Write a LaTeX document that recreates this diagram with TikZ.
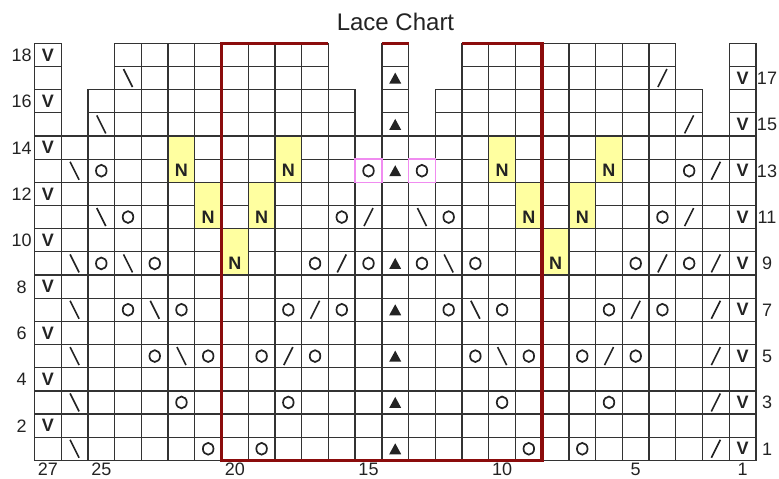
\documentclass[tikz,border=0pt]{standalone}
\usepackage{fontspec}
\setmainfont{Liberation Sans}
\definecolor{chartred}{RGB}{139,12,12}
\definecolor{chartyel}{RGB}{255,255,160}
\definecolor{chartpink}{RGB}{240,140,240}
\definecolor{ink}{RGB}{35,35,35}
\def\gx{34.5}\def\gy{43.3}\def\cw{26.72}\def\rh{23.17}
\newcommand\kncell[2]{\draw[gridl] ({\gx+(27-#1)*\cw},{\gy+(18-#2)*\rh}) rectangle ++(\cw,\rh);}
\newcommand\knY[2]{\draw[yelbox] ({\gx+(27-#1)*\cw},{\gy+(17-#2)*\rh}) rectangle ++(\cw,{2*\rh});}
\newcommand\knP[2]{\draw[pinkbox] ({\gx+(27-#1)*\cw},{\gy+(18-#2)*\rh}) rectangle ++(\cw,\rh);}
\newcommand\knO[2]{\draw[ring] ({\gx+(27.5-#1)*\cw},{\gy+(18.5-#2)*\rh}) ellipse [x radius=5.3, y radius=5.9];}
\newcommand\knB[2]{\draw[slant] ({\gx+(27.5-#1)*\cw-4.5},{\gy+(18.5-#2)*\rh-9}) -- ++(9,18);}
\newcommand\knS[2]{\draw[slant] ({\gx+(27.5-#1)*\cw-4.5},{\gy+(18.5-#2)*\rh+9}) -- ++(9,-18);}
\newcommand\knT[2]{\fill[ink] ({\gx+(27.5-#1)*\cw-6},{\gy+(18.5-#2)*\rh+5.5}) -- ++(12,0) -- ++(-6,-11) -- cycle;}
\newcommand\knV[2]{\node[stitch] (v-#1-#2) at ({\gx+(27.5-#1)*\cw},{\gy+(18.5-#2)*\rh+6.2}) {V};}
\newcommand\knN[2]{\node[stitch] (n-#1-#2) at ({\gx+(27.5-#1)*\cw},{\gy+(18.5-#2)*\rh+6.2}) {N};}
\begin{document}
\begin{tikzpicture}[x=1pt,y=-1pt,
  gridl/.style={line width=1.3pt, draw=black!80},
  redl/.style={line width=3.6pt, draw=chartred},
  yelbox/.style={gridl, fill=chartyel},
  pinkbox/.style={line width=1.5pt, draw=chartpink},
  stitch/.style={font=\fontsize{18}{18}\selectfont\bfseries, text=ink, anchor=base, inner sep=0pt},
  lbl/.style={font=\fontsize{18}{18}\selectfont, text=ink, anchor=base, inner sep=0pt},
  ring/.style={line width=1.7pt, draw=ink},
  slant/.style={line width=1.6pt, draw=ink}]
\useasboundingbox (0,0) rectangle (779,479);
% grid
\foreach \r in {1,...,14}{\foreach \c in {1,...,27}{\kncell{\c}{\r}}}
\foreach \r in {15,16}{%
  \foreach \c in {27,14,1}{\kncell{\c}{\r}}
  \foreach \c in {16,...,25}{\kncell{\c}{\r}}
  \foreach \c in {3,...,12}{\kncell{\c}{\r}}}
\foreach \r in {17,18}{%
  \foreach \c in {27,14,1}{\kncell{\c}{\r}}
  \foreach \c in {17,...,24}{\kncell{\c}{\r}}
  \foreach \c in {4,...,11}{\kncell{\c}{\r}}}
% yellow merged cells
\foreach \c/\r in {22/13,18/13,10/13,6/13,21/11,19/11,9/11,7/11,20/9,8/9}{\knY{\c}{\r}}
% pink cells
\knP{15}{13}\knP{13}{13}
% red frame
\draw[redl] ({\gx+11*\cw},\gy) -- ({\gx+7*\cw},\gy) -- ({\gx+7*\cw},{\gy+18*\rh}) -- ({\gx+19*\cw},{\gy+18*\rh}) -- ({\gx+19*\cw},\gy) -- ({\gx+16*\cw},\gy);
\draw[redl] ({\gx+13*\cw},\gy) -- ({\gx+14*\cw},\gy);
% N stitches
\foreach \c/\r in {22/13,18/13,10/13,6/13,21/11,19/11,9/11,7/11,20/9,8/9}{\knN{\c}{\r}}
% V stitches
\foreach \r in {1,3,...,17}{\knV{1}{\r}}
\foreach \r in {2,4,...,18}{\knV{27}{\r}}
% row 17, 15
\knB{24}{17}\knT{14}{17}\knS{4}{17}
\knB{25}{15}\knT{14}{15}\knS{3}{15}
% row 13
\knB{26}{13}\knO{25}{13}\knO{15}{13}\knT{14}{13}\knO{13}{13}\knO{3}{13}\knS{2}{13}
% row 11
\knB{25}{11}\knO{24}{11}\knO{16}{11}\knS{15}{11}\knB{13}{11}\knO{12}{11}\knO{4}{11}\knS{3}{11}
% row 9
\knB{26}{9}\knO{25}{9}\knB{24}{9}\knO{23}{9}\knO{17}{9}\knS{16}{9}\knO{15}{9}\knT{14}{9}\knO{13}{9}\knB{12}{9}\knO{11}{9}\knO{5}{9}\knS{4}{9}\knO{3}{9}\knS{2}{9}
% row 7
\knB{26}{7}\knO{24}{7}\knB{23}{7}\knO{22}{7}\knO{18}{7}\knS{17}{7}\knO{16}{7}\knT{14}{7}\knO{12}{7}\knB{11}{7}\knO{10}{7}\knO{6}{7}\knS{5}{7}\knO{4}{7}\knS{2}{7}
% row 5
\knB{26}{5}\knO{23}{5}\knB{22}{5}\knO{21}{5}\knO{19}{5}\knS{18}{5}\knO{17}{5}\knT{14}{5}\knO{11}{5}\knB{10}{5}\knO{9}{5}\knO{7}{5}\knS{6}{5}\knO{5}{5}\knS{2}{5}
% row 3
\knB{26}{3}\knO{22}{3}\knO{18}{3}\knT{14}{3}\knO{10}{3}\knO{6}{3}\knS{2}{3}
% row 1
\knB{26}{1}\knO{21}{1}\knO{19}{1}\knT{14}{1}\knO{9}{1}\knO{7}{1}\knS{2}{1}
% labels
\foreach \r in {2,4,...,18}{\node[lbl] (rl\r) at (21.7,{\gy+(18.5-\r)*\rh+6.45}) {\r};}
\foreach \r in {1,3,...,17}{\node[lbl] (rr\r) at (767,{\gy+(18.5-\r)*\rh+6.45}) {\r};}
\foreach \c in {27,25,20,15,10,5,1}{\node[lbl] (cl\c) at ({\gx+(27.5-\c)*\cw},475.5) {\c};}
\node[font=\fontsize{24}{24}\selectfont, text=ink, anchor=base, inner sep=0pt] (title) at (395.5,30.7) {Lace Chart};
\end{tikzpicture}
\end{document}
